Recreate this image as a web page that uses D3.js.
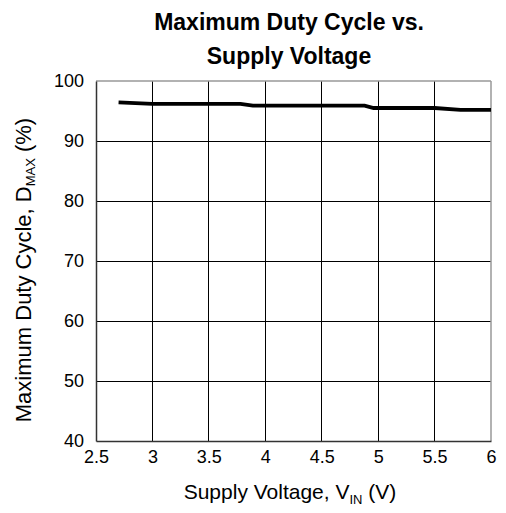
<!DOCTYPE html>
<html><head><meta charset="utf-8">
<script src="https://cdn.jsdelivr.net/npm/d3@7"></script>
<style>body{margin:0;background:#fff}svg{display:block;font-family:"Liberation Sans",Arial,sans-serif}</style>
</head><body>
<svg id="c" width="506" height="513"></svg>
<script>
const titleLines = ["Maximum Duty Cycle vs.", "Supply Voltage"];
const xTicks = [2.5, 3, 3.5, 4, 4.5, 5, 5.5, 6];
const yTicks = [40, 50, 60, 70, 80, 90, 100];
const vin = [2.7, 3.0, 3.5, 3.78, 3.89, 4.0, 4.5, 4.88, 4.96, 5.0, 5.5, 5.73, 6.0];
const dmax = [96.45, 96.2, 96.2, 96.2, 95.9, 95.9, 95.9, 95.9, 95.5, 95.5, 95.5, 95.2, 95.2];

const svg = d3.select("#c");
const m = {l: 96, r: 491, t: 81, b: 441};
const x = d3.scaleLinear().domain([2.5, 6]).range([m.l, m.r]);
const y = d3.scaleLinear().domain([40, 100]).range([m.b, m.t]);
const FF = "Liberation Sans, Arial, sans-serif";

// grid
svg.append("g").selectAll("line").data(xTicks.slice(1, -1)).join("line")
  .attr("x1", d => x(d)).attr("x2", d => x(d)).attr("y1", m.t).attr("y2", m.b)
  .attr("stroke", "#000").attr("stroke-width", 1).attr("shape-rendering", "crispEdges");
svg.append("g").selectAll("line").data(yTicks.slice(1, -1)).join("line")
  .attr("x1", m.l).attr("x2", m.r).attr("y1", d => y(d)).attr("y2", d => y(d))
  .attr("stroke", "#000").attr("stroke-width", 1).attr("shape-rendering", "crispEdges");

// frame
svg.append("line").attr("x1", m.l).attr("x2", m.r).attr("y1", m.t).attr("y2", m.t).attr("stroke", "#999").attr("stroke-width", 1.5);
svg.append("line").attr("x1", m.r).attr("x2", m.r).attr("y1", m.t).attr("y2", m.b).attr("stroke", "#999").attr("stroke-width", 1.5);

// axes
const xa = svg.append("g").attr("transform", `translate(0,${m.b})`)
  .call(d3.axisBottom(x).tickValues(xTicks).tickSize(0).tickPadding(9).tickFormat(d3.format("")));
xa.select(".domain").attr("stroke", "#333").attr("stroke-width", 1.5);
xa.selectAll("text").attr("font-size", 18).attr("fill", "#000").attr("font-family", FF);
const ya = svg.append("g").attr("transform", `translate(${m.l},0)`)
  .call(d3.axisLeft(y).tickValues(yTicks).tickSize(0).tickPadding(12).tickFormat(d3.format("")));
ya.select(".domain").attr("stroke", "#333").attr("stroke-width", 1.5);
ya.selectAll("text").attr("font-size", 18).attr("fill", "#000").attr("font-family", FF);

// data line
svg.append("path").datum(vin.map((v, i) => [v, dmax[i]]))
  .attr("fill", "none").attr("stroke", "#000").attr("stroke-width", 3.8)
  .attr("d", d3.line().x(d => x(d[0])).y(d => y(d[1])));

// title
svg.append("g").selectAll("text").data(titleLines).join("text")
  .attr("x", 289).attr("y", (d, i) => 30 + i * 34)
  .attr("text-anchor", "middle").attr("font-weight", "bold").attr("font-size", 23).attr("fill", "#000")
  .text(d => d);

// x label
const xl = svg.append("text").attr("x", 290).attr("y", 499).attr("text-anchor", "middle")
  .attr("font-size", 21).attr("fill", "#000");
xl.append("tspan").text("Supply Voltage, V");
xl.append("tspan").attr("font-size", 13).attr("dy", 5).text("IN");
xl.append("tspan").attr("dy", -5).text(" (V)");

// y label
const yl = svg.append("text").attr("transform", "translate(31,270) rotate(-90)").attr("text-anchor", "middle")
  .attr("font-size", 22).attr("fill", "#000");
yl.append("tspan").text("Maximum Duty Cycle, D");
yl.append("tspan").attr("font-size", 13).attr("dy", 4).text("MAX");
yl.append("tspan").attr("dy", -4).text(" (%)");
</script>
</body></html>
